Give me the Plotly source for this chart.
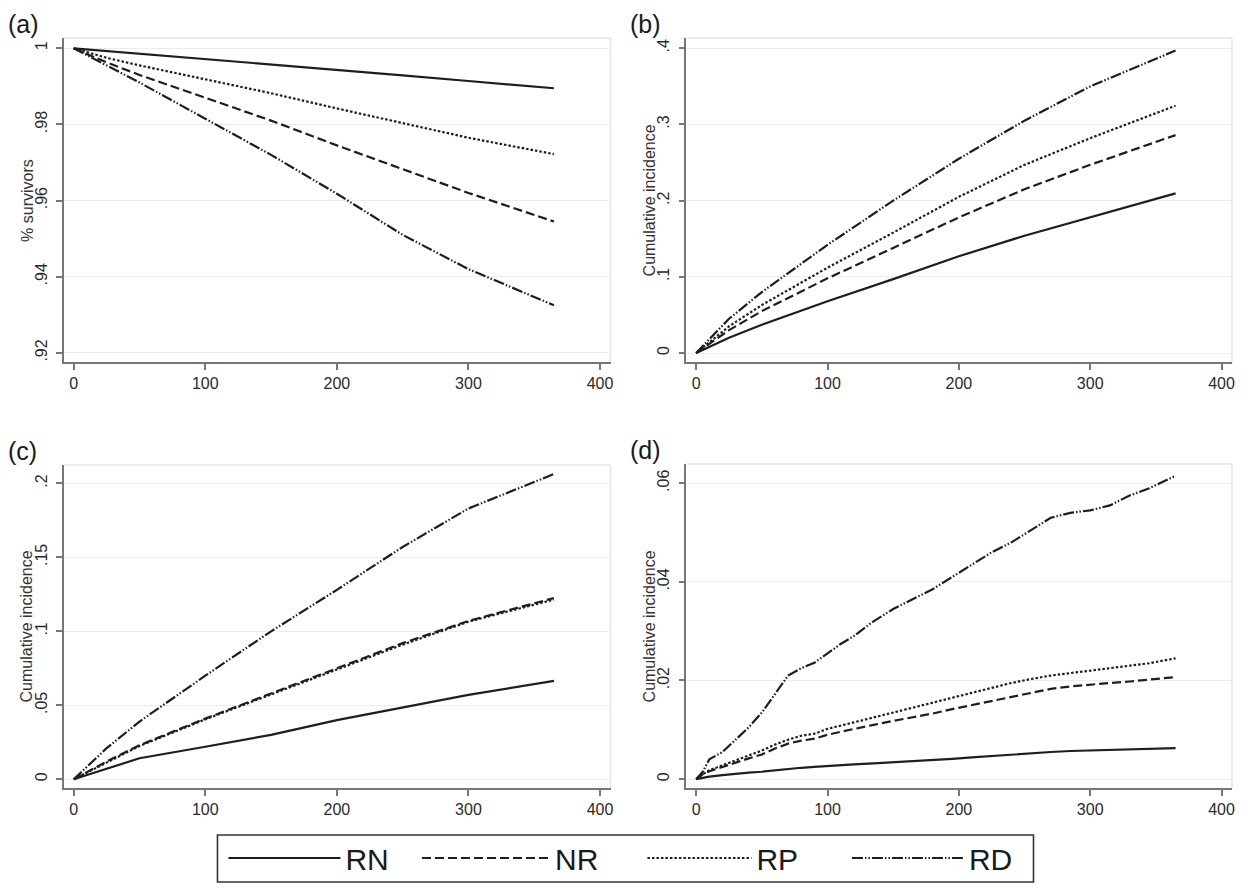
import plotly.graph_objects as go

# ---------------- data ----------------
series_names = ["RN", "NR", "RP", "RD"]

days_abc = [0, 25, 50, 100, 150, 200, 250, 300, 365]

# (a) % survivors
a_RN = [1.0, 0.9993, 0.9986, 0.9972, 0.9958, 0.9943, 0.9929, 0.9914, 0.9895]
a_NR = [1.0, 0.9963, 0.9930, 0.9870, 0.9810, 0.9745, 0.9683, 0.9620, 0.9545]
a_RP = [1.0, 0.9975, 0.9955, 0.9918, 0.9882, 0.9842, 0.9803, 0.9765, 0.9722]
a_RD = [1.0, 0.9955, 0.9910, 0.9815, 0.9720, 0.9618, 0.9510, 0.9420, 0.9325]

# (b) cumulative incidence
b_RN = [0.0, 0.020, 0.037, 0.068, 0.097, 0.127, 0.154, 0.178, 0.2095]
b_NR = [0.0, 0.030, 0.055, 0.098, 0.138, 0.178, 0.215, 0.247, 0.286]
b_RP = [0.0, 0.035, 0.063, 0.112, 0.158, 0.205, 0.247, 0.282, 0.3246]
b_RD = [0.0, 0.045, 0.080, 0.142, 0.200, 0.255, 0.305, 0.350, 0.397]

# (c) cumulative incidence
c_RN = [0.0, 0.007, 0.0142, 0.022, 0.030, 0.040, 0.0485, 0.057, 0.0665]
c_NR = [0.0, 0.012, 0.023, 0.041, 0.058, 0.075, 0.092, 0.107, 0.1225]
c_RP = [0.0, 0.0115, 0.0225, 0.0405, 0.0575, 0.0745, 0.091, 0.1065, 0.1215]
c_RD = [0.0, 0.021, 0.039, 0.070, 0.100, 0.128, 0.157, 0.183, 0.2063]

# (d) cumulative incidence
days_d = [0, 5, 10, 20, 30, 40, 50, 60, 70, 80, 90, 100, 110, 120, 135, 150,
          165, 180, 195, 210, 225, 240, 255, 270, 285, 300, 315, 330, 345, 365]
d_RN = [0, .0003, .0005, .0008, .0011, .0013, .0015, .0018, .0021, .0023, .0025,
        .0027, .0028, .0030, .0032, .0034, .0037, .0039, .0041, .0044, .0047,
        .0050, .0052, .0055, .0057, .0058, .0059, .0060, .0061, .0063]
d_NR = [0, .0010, .0016, .0025, .0033, .0042, .0050, .0062, .0072, .0078, .0082,
        .0090, .0096, .0102, .0110, .0118, .0125, .0133, .0142, .0150, .0158,
        .0166, .0175, .0183, .0188, .0192, .0195, .0198, .0202, .0207]
d_RP = [0, .0010, .0018, .0028, .0038, .0048, .0058, .0070, .0080, .0088, .0092,
        .0102, .0108, .0115, .0125, .0135, .0145, .0155, .0165, .0175, .0185,
        .0195, .0203, .0210, .0215, .0220, .0225, .0230, .0235, .0245]
d_RD = [0, .0015, .0040, .0055, .0080, .0105, .0135, .0172, .0210, .0225, .0236,
        .0255, .0274, .0290, .0320, .0345, .0365, .0385, .0410, .0435, .0460,
        .0480, .0505, .0530, .0540, .0545, .0555, .0575, .0590, .0615]

x_ticks = [0, 100, 200, 300, 400]
a_ticks = [0.92, 0.94, 0.96, 0.98, 1.0]
a_ticktext = [".92", ".94", ".96", ".98", "1"]
b_ticks = [0, 0.1, 0.2, 0.3, 0.4]
b_ticktext = ["0", ".1", ".2", ".3", ".4"]
c_ticks = [0, 0.05, 0.1, 0.15, 0.2]
c_ticktext = ["0", ".05", ".1", ".15", ".2"]
d_ticks = [0, 0.02, 0.04, 0.06]
d_ticktext = ["0", ".02", ".04", ".06"]

panel_labels = ["(a)", "(b)", "(c)", "(d)"]
y_titles = ["% survivors", "Cumulative incidence", "Cumulative incidence", "Cumulative incidence"]

# ---------------- styling ----------------
W, H = 1242, 893
FONT = "Liberation Sans, Arial, Helvetica, sans-serif"
LINE_COL = "#1e1e1e"
dashes = {"RN": "solid", "NR": "9px,4px", "RP": "2.5px,2px",
          "RD": "11px,2px,1.5px,2px,1.5px,2px"}
# legend key start (px) and key length (px) for each entry
legend_keys = {"RN": (230, 112), "NR": (424, 128), "RP": (650, 104), "RD": (855, 112)}
legend_ids = {"RN": "legend", "NR": "legend2", "RP": "legend3", "RD": "legend4"}


def px_x(p):
    return p / W


def px_y(p):
    return 1 - p / H


panels = [
    dict(ax="1", dom_x=(64, 612), dom_y=(38, 362), yr=(0.9176, 1.0027),
         ticks=a_ticks, tt=a_ticktext, x=days_abc,
         ys={"RN": a_RN, "NR": a_NR, "RP": a_RP, "RD": a_RD}),
    dict(ax="2", dom_x=(688, 1235), dom_y=(38, 362), yr=(-0.0118, 0.4135),
         ticks=b_ticks, tt=b_ticktext, x=days_abc,
         ys={"RN": b_RN, "NR": b_NR, "RP": b_RP, "RD": b_RD}),
    dict(ax="3", dom_x=(64, 612), dom_y=(465, 788), yr=(-0.0059, 0.2124),
         ticks=c_ticks, tt=c_ticktext, x=days_abc,
         ys={"RN": c_RN, "NR": c_NR, "RP": c_RP, "RD": c_RD}),
    dict(ax="4", dom_x=(688, 1235), dom_y=(464, 788), yr=(-0.0018, 0.0639),
         ticks=d_ticks, tt=d_ticktext, x=days_d,
         ys={"RN": d_RN, "NR": d_NR, "RP": d_RP, "RD": d_RD}),
]

fig = go.Figure()
layout = dict(
    width=W, height=H,
    margin=dict(l=0, r=0, t=0, b=0),
    paper_bgcolor="white", plot_bgcolor="white",
    font=dict(family=FONT, color="#2a2a2a", size=16),
    showlegend=True,
)
for name in series_names:
    x0, ln = legend_keys[name]
    layout[legend_ids[name]] = dict(
        orientation="h", x=px_x(x0 - 6), xanchor="left",
        y=px_y(858), yanchor="middle",
        font=dict(size=30, color="#1a1a1a", family=FONT),
        itemwidth=ln, bgcolor="rgba(0,0,0,0)", itemclick=False,
        borderwidth=0)

shapes = []
annotations = []

for i, p in enumerate(panels):
    ax = p["ax"]
    xname = "xaxis" if ax == "1" else "xaxis" + ax
    yname = "yaxis" if ax == "1" else "yaxis" + ax
    xref = "x" if ax == "1" else "x" + ax
    yref = "y" if ax == "1" else "y" + ax
    for name in series_names:
        fig.add_trace(go.Scatter(
            x=p["x"], y=p["ys"][name], mode="lines", name=name,
            xaxis=xref, yaxis=yref, showlegend=(i == 0),
            legend=legend_ids[name],
            line=dict(color=LINE_COL, width=2.2, dash=dashes[name]),
        ))
    layout[xname] = dict(
        domain=[px_x(p["dom_x"][0]), px_x(p["dom_x"][1])],
        range=[-7.5, 408], anchor=yref, tickmode="array", tickvals=x_ticks,
        ticks="outside", ticklen=6, tickwidth=1.5, tickcolor="#777",
        showline=True, linecolor="#777", linewidth=1.6, showgrid=False,
        zeroline=False, tickfont=dict(size=16, color="#2a2a2a"),
        ticklabeloverflow="allow",
    )
    layout[yname] = dict(
        domain=[px_y(p["dom_y"][1]), px_y(p["dom_y"][0])],
        range=list(p["yr"]), anchor=xref, tickmode="array",
        tickvals=p["ticks"], ticktext=p["tt"], tickangle=-90,
        ticks="outside", ticklen=6, tickwidth=1.5, tickcolor="#777",
        ticklabelstandoff=3,
        showline=True, linecolor="#777", linewidth=1.6,
        showgrid=True, gridcolor="#ececec", gridwidth=1.2,
        zeroline=False, tickfont=dict(size=16, color="#2a2a2a"),
    )
    shapes.append(dict(type="line", xref=xref + " domain", yref=yref + " domain",
                       x0=0, x1=1, y0=1, y1=1, line=dict(color="#e6e6e6", width=1.5)))
    shapes.append(dict(type="line", xref=xref + " domain", yref=yref + " domain",
                       x0=1, x1=1, y0=0, y1=1, line=dict(color="#e6e6e6", width=1.5)))
    cy = (p["dom_y"][0] + p["dom_y"][1]) / 2
    annotations.append(dict(
        text=y_titles[i], xref="paper", yref="paper",
        x=px_x(p["dom_x"][0] - 37), y=px_y(cy), xanchor="center", yanchor="middle",
        textangle=-90, showarrow=False, font=dict(size=16, color="#333")))
    annotations.append(dict(
        text=panel_labels[i], xref="paper", yref="paper",
        x=px_x(p["dom_x"][0] - 58), y=px_y(p["dom_y"][0] - 30),
        xanchor="left", yanchor="top", showarrow=False,
        font=dict(size=25, color="#1a1a1a")))

shapes.append(dict(type="rect", xref="paper", yref="paper",
                   x0=px_x(218), x1=px_x(1036), y0=px_y(882), y1=px_y(835),
                   line=dict(color="#333", width=1.6), fillcolor="rgba(0,0,0,0)"))

layout["shapes"] = shapes
layout["annotations"] = annotations
fig.update_layout(**layout)
fig.write_html("out.html", config={"displayModeBar": False},
               post_script="document.body.style.margin='0px';document.body.style.overflow='hidden';")
